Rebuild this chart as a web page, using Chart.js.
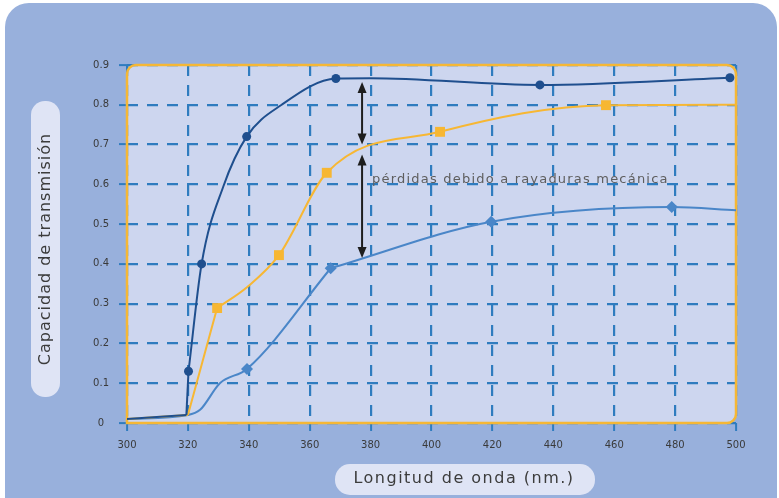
<!DOCTYPE html>
<html lang="es">
<head>
    <meta charset="UTF-8">
    <title>Capacidad de transmisión</title>
    <style>
        body {
            margin: 0;
            background: #ffffff;
        }

        .chart-container {
            width: 779px;
            height: 498px;
        }
    </style>
</head>
<body>
    <div class="chart-container">
        <canvas id="transChart" width="779" height="498"></canvas>
    </div>

    <script src="https://cdn.jsdelivr.net/npm/chart.js@4"></script>
    <script>
        // Ejes
        const xTicks = [300, 320, 340, 360, 380, 400, 420, 440, 460, 480, 500];
        const yTicks = [0, 0.1, 0.2, 0.3, 0.4, 0.5, 0.6, 0.7, 0.8, 0.9];
        const yTickLabels = ['0', '0.1', '0.2', '0.3', '0.4', '0.5', '0.6', '0.7', '0.8', '0.9'];

        // Curva superior (círculos)
        const darkX = [300, 319.5, 320.2, 324.5, 331.6, 339.3, 350.8, 368.6, 380, 435.6, 498];
        const darkY = [0.01, 0.02, 0.13, 0.40, 0.594, 0.72, 0.80, 0.866, 0.867, 0.85, 0.868];
        const darkMarks = [2, 3, 5, 7, 9, 10];
        const darkBreaks = [1, 2];

        // Curva media (cuadrados)
        const orangeX = [300, 320, 329.6, 339.5, 349.9, 365.6, 402.8, 457.3, 500];
        const orangeY = [0.01, 0.02, 0.289, 0.342, 0.422, 0.629, 0.732, 0.799, 0.80];
        const orangeMarks = [2, 4, 5, 6, 7];
        const orangeBreaks = [1, 2];

        // Curva inferior (rombos)
        const lightX = [300, 320, 324, 330.5, 339.4, 366.9, 419.6, 478.9, 500];
        const lightY = [0.01, 0.02, 0.033, 0.10, 0.136, 0.389, 0.506, 0.543, 0.535];
        const lightMarks = [4, 5, 6, 7];
        const lightBreaks = [5];

        // Anotación de pérdidas
        const lossX = 377.2;
        const upperArrow = [0.857, 0.70];
        const lowerArrow = [0.675, 0.415];
        const lossText = 'pérdidas debido a rayaduras mecánica';
        const lossTextPos = [380.5, 0.613];

        const xTitle = 'Longitud de onda (nm.)';
        const yTitle = 'Capacidad de transmisión';

        function toPoints(xs, ys) {
            return xs.map((x, i) => ({ x: x, y: ys[i] }));
        }

        // trozos de línea (las esquinas quedan en los cortes)
        function lineParts(xs, ys, breaks, color) {
            const pts = toPoints(xs, ys);
            const cuts = [0, ...breaks, pts.length - 1];
            const parts = [];
            for (let i = 0; i < cuts.length - 1; i++) {
                parts.push({
                    data: pts.slice(cuts[i], cuts[i + 1] + 1),
                    borderColor: color,
                    borderWidth: 2,
                    pointRadius: 0,
                    cubicInterpolationMode: 'monotone'
                });
            }
            return parts;
        }

        function markers(xs, ys, marks, color, style, r) {
            return {
                data: marks.map(i => ({ x: xs[i], y: ys[i] })),
                showLine: false,
                backgroundColor: color,
                borderWidth: 0,
                pointStyle: style,
                pointRadius: r
            };
        }

        // Fondo, recuadro del gráfico y etiquetas de los ejes
        const backgroundPlugin = {
            id: 'fondo',
            beforeDraw(chart) {
                const ctx = chart.ctx;
                const a = chart.chartArea;
                ctx.save();
                ctx.fillStyle = '#ffffff';
                ctx.fillRect(0, 0, chart.width, chart.height);

                ctx.fillStyle = '#98b0dc';
                ctx.beginPath();
                ctx.roundRect(5, 3, chart.width - 7, chart.height + 30, 24);
                ctx.fill();

                ctx.fillStyle = '#cdd6ef';
                ctx.beginPath();
                ctx.roundRect(a.left, a.top, a.right - a.left, a.bottom - a.top, [9, 9, 9, 0]);
                ctx.fill();

                // pastillas de títulos
                ctx.fillStyle = '#dfe4f5';
                ctx.beginPath();
                ctx.roundRect(31, 101, 29, 296, 14);
                ctx.fill();
                ctx.beginPath();
                ctx.roundRect(335, 464, 260, 31, 15);
                ctx.fill();

                ctx.fillStyle = '#3c3c3c';
                ctx.font = '16px "DejaVu Sans"';
                ctx.textAlign = 'center';
                ctx.textBaseline = 'middle';
                ctx.letterSpacing = '1.5px';
                ctx.fillText(xTitle, 464, 479);

                ctx.letterSpacing = '1px';
                ctx.translate(46, 249);
                ctx.rotate(-Math.PI / 2);
                ctx.fillText(yTitle, 0, 0);
                ctx.restore();
            },
            beforeDatasetsDraw(chart) {
                const ctx = chart.ctx;
                const a = chart.chartArea;
                ctx.save();
                ctx.strokeStyle = '#f5b735';
                ctx.lineWidth = 2.5;
                ctx.beginPath();
                ctx.roundRect(a.left, a.top, a.right - a.left, a.bottom - a.top, [9, 9, 9, 0]);
                ctx.stroke();
                ctx.restore();
            }
        };

        function drawArrow(ctx, x, y1, y2) {
            ctx.beginPath();
            ctx.moveTo(x, y1 + 6);
            ctx.lineTo(x, y2 - 6);
            ctx.stroke();
            ctx.beginPath();
            ctx.moveTo(x, y1);
            ctx.lineTo(x - 4.5, y1 + 11);
            ctx.lineTo(x + 4.5, y1 + 11);
            ctx.closePath();
            ctx.fill();
            ctx.beginPath();
            ctx.moveTo(x, y2);
            ctx.lineTo(x - 4.5, y2 - 11);
            ctx.lineTo(x + 4.5, y2 - 11);
            ctx.closePath();
            ctx.fill();
        }

        const lossPlugin = {
            id: 'perdidas',
            afterDatasetsDraw(chart) {
                const ctx = chart.ctx;
                const xs = chart.scales.x;
                const ys = chart.scales.y;
                const px = xs.getPixelForValue(lossX);
                ctx.save();
                ctx.strokeStyle = '#1e1e1e';
                ctx.fillStyle = '#1e1e1e';
                ctx.lineWidth = 2;
                drawArrow(ctx, px, ys.getPixelForValue(upperArrow[0]), ys.getPixelForValue(upperArrow[1]));
                drawArrow(ctx, px, ys.getPixelForValue(lowerArrow[0]), ys.getPixelForValue(lowerArrow[1]));

                ctx.fillStyle = '#5e5e5e';
                ctx.font = '13px "DejaVu Sans"';
                ctx.letterSpacing = '1.2px';
                ctx.textAlign = 'left';
                ctx.textBaseline = 'middle';
                ctx.fillText(lossText, xs.getPixelForValue(lossTextPos[0]), ys.getPixelForValue(lossTextPos[1]));
                ctx.restore();
            }
        };

        const gridStyle = {
            color: '#2f7cbf',
            lineWidth: 2.2,
            tickLength: 8,
            tickColor: '#2f7cbf',
            tickWidth: 2,
            tickBorderDash: []
        };

        const datasets = [
            ...lineParts(darkX, darkY, darkBreaks, '#1f4f8e'),
            ...lineParts(orangeX, orangeY, orangeBreaks, '#f7b733'),
            ...lineParts(lightX, lightY, lightBreaks, '#4a86c8'),
            markers(darkX, darkY, darkMarks, '#1f4f8e', 'circle', 4.5),
            markers(orangeX, orangeY, orangeMarks, '#f7b733', 'rect', 7),
            markers(lightX, lightY, lightMarks, '#4a86c8', 'rectRot', 6)
        ];

        new Chart(document.getElementById('transChart'), {
            type: 'line',
            data: { datasets: datasets },
            options: {
                responsive: false,
                animation: false,
                devicePixelRatio: 1,
                layout: {
                    padding: { top: 65, right: 43, left: 0, bottom: 0 }
                },
                plugins: {
                    legend: { display: false },
                    tooltip: { enabled: false }
                },
                scales: {
                    x: {
                        type: 'linear',
                        min: 300,
                        max: 500,
                        afterBuildTicks: (scale) => {
                            scale.ticks = xTicks.map(v => ({ value: v }));
                        },
                        afterFit: (scale) => { scale.height = 75; },
                        border: { display: false, dash: [11, 9] },
                        grid: gridStyle,
                        ticks: {
                            color: '#3a3a3a',
                            font: { family: 'DejaVu Sans', size: 10 },
                            padding: 8,
                            maxRotation: 0,
                            callback: (v) => String(v)
                        }
                    },
                    y: {
                        min: 0,
                        max: 0.9,
                        afterBuildTicks: (scale) => {
                            scale.ticks = yTicks.map(v => ({ value: v }));
                        },
                        afterFit: (scale) => { scale.width = 127; },
                        border: { display: false, dash: [11, 9] },
                        grid: gridStyle,
                        ticks: {
                            color: '#3a3a3a',
                            font: { family: 'DejaVu Sans', size: 10 },
                            padding: 10,
                            crossAlign: 'center',
                            callback: (v, i) => yTickLabels[i]
                        }
                    }
                }
            },
            plugins: [backgroundPlugin, lossPlugin]
        });
    </script>
</body>
</html>
